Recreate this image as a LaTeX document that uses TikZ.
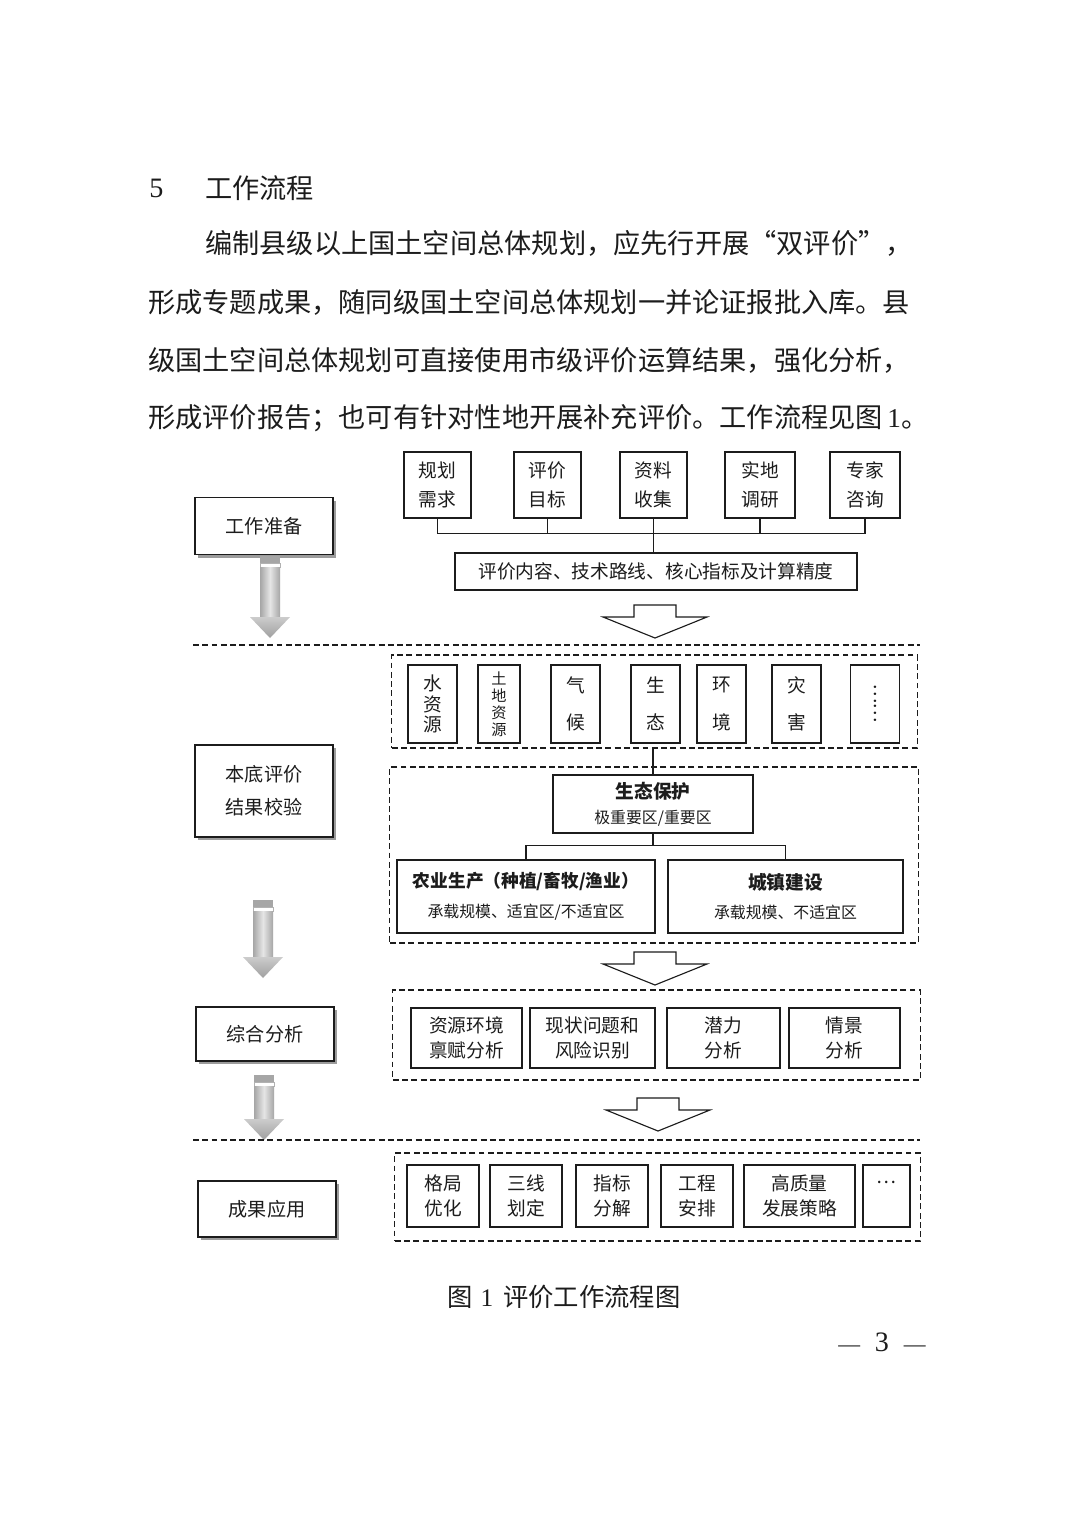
\documentclass[tikz,border=0pt]{standalone}
\usepackage{fontspec}
\setmainfont{Liberation Serif}
\newfontfamily\cjk{Noto Sans CJK SC}
\usetikzlibrary{positioning, shadows, calc}
\definecolor{ink}{HTML}{1C1C1C}
\definecolor{shd}{HTML}{9C9C9C}
\tikzset{
  para/.style={anchor=west, inner sep=0pt, text=ink, font=\fontsize{19.35pt}{23pt}\cjk},
  stage/.style={draw=ink, fill=white, line width=0.8pt, minimum width=3.45cm, align=center, text=ink,
                font=\fontsize{13.6pt}{23.4pt}\cjk,
                drop shadow={shadow xshift=2.2pt, shadow yshift=-2.2pt, fill=shd, opacity=1}},
  cell/.style={draw=ink, line width=0.8pt, align=center, inner sep=0pt, text=ink,
               font=\fontsize{13.3pt}{20.5pt}\cjk},
  cellc/.style={cell, font=\fontsize{13.3pt}{17.8pt}\cjk},
  cellv/.style={cell, minimum width=1.225cm, minimum height=1.95cm},
  grp/.style={draw=ink, line width=0.8pt, dash pattern=on 4.2pt off 2.4pt},
  sep/.style={draw=ink, line width=0.8pt, dash pattern=on 4.2pt off 2.4pt},
  link/.style={draw=ink, line width=0.8pt},
  pics/hollow/.style={code={
    \draw[link, fill=white] (-21,0) -- (21,0) -- (21,12) -- (52,12) -- (0,33) -- (-52,12) -- (-21,12) -- cycle;}},
  pics/garrow/.style={code={
    \fill[gray!70] (-10,0) rectangle (10,7);
    \draw[gray!60, fill=white] (-10,7) rectangle (10,11);
    \shade[left color=gray!70, right color=gray!70, middle color=gray!20] (-10,11) rectangle (10,{#1-21});
    \shade[top color=gray!40, bottom color=gray!75] (-20,{#1-21}) -- (20,{#1-21}) -- (0,#1) -- cycle;}},
}

\begin{document}
\begin{tikzpicture}[x=0.025cm, y=-0.025cm]
    \useasboundingbox (0,0) rectangle (1080,1527);
    \fill[white] (0,0) rectangle (1080,1527);
    % text above
    \node[para, font=\fontsize{20pt}{23pt}\selectfont] (secno) at (149,188) {5};
    \node[para] (sec) at (205,188) {工作流程};
    \node[para] (l1) at (205,243) {编制县级以上国土空间总体规划，应先行开展“双评价”，};
    \node[para] (l2) at (148,302) {形成专题成果，随同级国土空间总体规划一并论证报批入库。县};
    \node[para] (l3) at (148,360) {级国土空间总体规划可直接使用市级评价运算结果，强化分析，};
    \node[para] (l4) at (148,418) {形成评价报告；也可有针对性地开展补充评价。工作流程见图{\rmfamily\,1}。};

    % stages
    \node[stage, minimum height=1.425cm] (s1) at (264,526)  {工作准备};
    \node[stage, minimum height=2.3cm]   (s2) at (264,791)  {本底评价\\结果校验};
    \node[stage, minimum height=1.35cm]  (s3) at (265,1034) {综合分析};
    \node[stage, minimum height=1.4cm]   (s4) at (267,1209) {成果应用};
    \pic at (270,556)  {garrow=82};
    \pic at (263,900)  {garrow=78};
    \pic at (264,1075) {garrow=65};
    \draw[sep] (193,645) -- (920,645);
    \draw[sep] (193,1140) -- (920,1140);

    % preparation
    \node[cell, minimum width=1.675cm, minimum height=1.65cm] (t1) at (437.5,485) {规划\\需求};
    \node[cell, minimum width=1.675cm, minimum height=1.65cm] (t2) at (547.5,485) {评价\\目标};
    \node[cell, minimum width=1.675cm, minimum height=1.65cm] (t3) at (653.5,485) {资料\\收集};
    \node[cell, minimum width=1.75cm, minimum height=1.65cm]  (t4) at (760,485)   {实地\\调研};
    \node[cell, minimum width=1.75cm, minimum height=1.65cm]  (t5) at (865,485)   {专家\\咨询};
    \node[cell, minimum width=10.05cm, minimum height=0.925cm] (wide) at (656,571.5) {评价内容、技术路线、核心指标及计算精度};
    \draw[link] (t1.south) -- ++(0,15) -| (t5.south);
    \foreach \n in {t2,t3,t4} \draw[link] (\n.south) -- ++(0,15);
    \draw[link] (t3.south) -- (t3.south |- wide.north);
    \pic at (655,605) {hollow};

    % base evaluation
    \node[grp, minimum width=13.125cm, minimum height=2.325cm] (gA) at (654.5,701.5) {};
    \node[cellv, font=\fontsize{13.3pt}{14.6pt}\cjk] (a1) at (432.5,704) {水\\资\\源};
    \node[cellv, minimum width=1.05cm, font=\fontsize{10.8pt}{12.1pt}\cjk] (a2) at (499,704) {土\\地\\资\\源};
    \node[cellv, font=\fontsize{13.3pt}{26.5pt}\cjk] (a3) at (575.5,704) {气\\候};
    \node[cellv, font=\fontsize{13.3pt}{26.5pt}\cjk] (a4) at (655.5,704) {生\\态};
    \node[cellv, font=\fontsize{13.3pt}{26.5pt}\cjk] (a5) at (721.5,704) {环\\境};
    \node[cellv, font=\fontsize{13.3pt}{26.5pt}\cjk] (a6) at (796.5,704) {灾\\害};
    \node[cellv] (a7) at (875,704) {\rotatebox{90}{……}};

    \node[grp, minimum width=13.2cm, minimum height=4.4cm] (gB) at (654,855) {};
    \node[cell, minimum width=5cm, minimum height=1.45cm, font=\fontsize{13.3pt}{17.5pt}\cjk] (eco) at (653,804)
         {\textbf{生态保护}\\{\fontsize{11.3pt}{14pt}\selectfont 极重要区/重要区}};
    \node[cell, minimum width=6.45cm, minimum height=1.825cm, font=\fontsize{12.6pt}{21pt}\cjk] (agri) at (526,896.5)
         {\textbf{农业生产（种植/畜牧/渔业）}\\{\fontsize{11.3pt}{14pt}\selectfont 承载规模、适宜区/不适宜区}};
    \node[cell, minimum width=5.875cm, minimum height=1.825cm, font=\fontsize{13.3pt}{21pt}\cjk] (town) at (785.5,896.5)
         {\textbf{城镇建设}\\{\fontsize{11.3pt}{14pt}\selectfont 承载规模、不适宜区}};
    \draw[link] (gA.south -| eco.north) -- (eco.north);
    \draw[link] (eco.south) -- ++(0,12) coordinate (jn);
    \draw[link] (agri.north) |- (jn) -| (town.north);
    \pic at (655,952) {hollow};

    % analysis
    \node[grp, minimum width=13.175cm, minimum height=2.25cm] (gC) at (656.5,1035) {};
    \node[cellc, minimum width=2.775cm, minimum height=1.5cm] (c1) at (466.5,1038) {资源环境\\禀赋分析};
    \node[cellc, minimum width=3.125cm, minimum height=1.5cm] (c2) at (592.5,1038) {现状问题和\\风险识别};
    \node[cellc, minimum width=2.825cm, minimum height=1.5cm] (c3) at (723.5,1038) {潜力\\分析};
    \node[cellc, minimum width=2.775cm, minimum height=1.5cm] (c4) at (844.5,1038) {情景\\分析};
    \pic at (658,1098) {hollow};

    % application
    \node[grp, minimum width=13.125cm, minimum height=2.2cm] (gD) at (657.5,1197) {};
    \node[cellc, minimum width=1.8cm, minimum height=1.55cm] (d1) at (443,1196) {格局\\优化};
    \node[cellc, minimum width=1.8cm, minimum height=1.55cm] (d2) at (526,1196) {三线\\划定};
    \node[cellc, minimum width=1.8cm, minimum height=1.55cm] (d3) at (612,1196) {指标\\分解};
    \node[cellc, minimum width=1.8cm, minimum height=1.55cm] (d4) at (697,1196) {工程\\安排};
    \node[cellc, minimum width=2.775cm, minimum height=1.55cm] (d5) at (799.5,1196) {高质量\\发展策略};
    \node[cellc, minimum width=1.175cm, minimum height=1.55cm] (d6) at (886.5,1196) {…\\\phantom{格}};

    % caption
    \node[para, font=\fontsize{18pt}{22pt}\cjk] (cap) at (447,1297) {图\hspace{0.2cm}{\rmfamily 1}\hspace{0.25cm}评价工作流程图};
    \node[para, font=\fontsize{20pt}{22pt}\selectfont] (pg) at (838,1342)
         {{\fontsize{15.5pt}{18pt}\selectfont —}\hspace{0.37cm}3\hspace{0.37cm}{\fontsize{15.5pt}{18pt}\selectfont —}};
  \end{tikzpicture}
\end{document}
